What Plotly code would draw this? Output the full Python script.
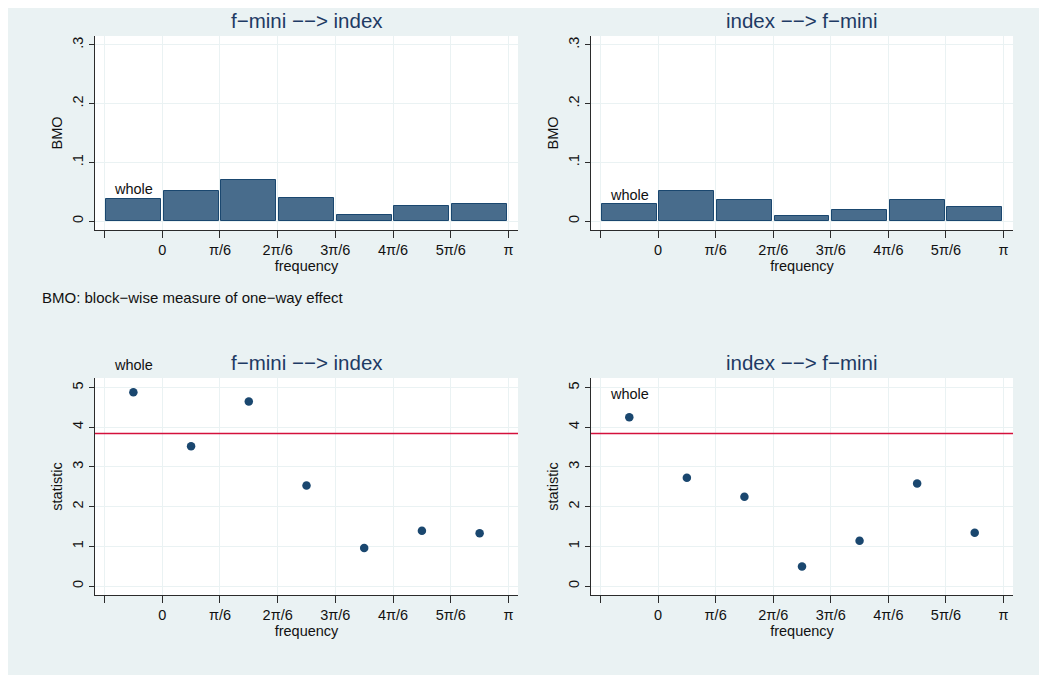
import numpy as np
import plotly.graph_objects as go

# ---------------- data ----------------
blocks = ["whole", "0-π/6", "π/6-2π/6", "2π/6-3π/6", "3π/6-4π/6", "4π/6-5π/6", "5π/6-π"]
bmo_f_to_i = [0.037, 0.051, 0.070, 0.039, 0.010, 0.025, 0.029]
bmo_i_to_f = [0.029, 0.051, 0.035, 0.008, 0.019, 0.036, 0.024]
stat_f_to_i = [4.88, 3.52, 4.65, 2.53, 0.96, 1.39, 1.33]
stat_i_to_f = [4.25, 2.73, 2.25, 0.49, 1.14, 2.58, 1.34]
critical_value = 3.84
x_tick_labels = ["", "0", "π/6", "2π/6", "3π/6", "4π/6", "5π/6", "π"]
bmo_ticks = [0, 0.1, 0.2, 0.3]
bmo_tick_labels = ["0", ".1", ".2", ".3"]
stat_ticks = [0, 1, 2, 3, 4, 5]
stat_tick_labels = ["0", "1", "2", "3", "4", "5"]
panel_titles = ["f−mini −−> index", "index −−> f−mini"]
note_text = "BMO: block−wise measure of one−way effect"

# ---------------- geometry ----------------
W, H = 1047, 675
OFF = 8  # page body margin offset
step = np.pi / 6
centers = [(i - 0.5) * step for i in range(len(blocks))]
tickvals = [(k - 1) * step for k in range(len(x_tick_labels))]
xrange_ = [-1.165 * step, 6.165 * step]

BG = "#eaf2f3"
NAVY = "#1a476f"
BAR_FILL = "#486c8c"
AX = "#2b2b2b"
FONT = "Liberation Sans, Arial, Helvetica, sans-serif"
TICK_SIZE = 14.5

def px_x(a, b):
    return [(a - OFF) / W, (b - OFF) / W]

def px_y(top, bottom):
    return [1 - (bottom - OFF) / H, 1 - (top - OFF) / H]

def py(v):
    return 1 - (v - OFF) / H

dom_x_left = px_x(95, 518)
dom_x_right = px_x(591, 1013)
dom_y_top = px_y(36, 230)
dom_y_bot = px_y(378, 595)

fig = go.Figure()

# bars (top row)
for vals, xa, ya in [(bmo_f_to_i, "x", "y"), (bmo_i_to_f, "x2", "y2")]:
    fig.add_trace(go.Bar(
        x=centers, y=vals, width=0.955 * step, xaxis=xa, yaxis=ya,
        marker=dict(color=BAR_FILL, line=dict(color=NAVY, width=1)),
        text=blocks, hoverinfo="x+y", textposition="none", showlegend=False,
    ))

# scatter (bottom row)
for vals, xa, ya in [(stat_f_to_i, "x3", "y3"), (stat_i_to_f, "x4", "y4")]:
    fig.add_trace(go.Scatter(
        x=centers, y=vals, mode="markers", xaxis=xa, yaxis=ya,
        marker=dict(color=NAVY, size=8.5, line=dict(width=0)),
        text=blocks, showlegend=False,
    ))

def xaxis(domain, anchor):
    return dict(
        domain=domain, anchor=anchor, range=xrange_,
        tickmode="array", tickvals=tickvals, ticktext=x_tick_labels,
        ticks="outside", ticklen=7, tickcolor=AX, tickwidth=1,
        showline=True, linecolor=AX, linewidth=1,
        showgrid=True, gridcolor=BG, gridwidth=1, zeroline=False,
        tickfont=dict(size=TICK_SIZE, color="#111"),
        title=dict(text="frequency", font=dict(size=TICK_SIZE, color="#111"), standoff=2),
        fixedrange=True,
    )

def yaxis(domain, anchor, rng, tv, tt, title):
    return dict(
        domain=domain, anchor=anchor, range=rng,
        tickmode="array", tickvals=tv, ticktext=tt, tickangle=-90,
        ticks="outside", ticklen=5, tickcolor=AX, tickwidth=1,
        showline=True, linecolor=AX, linewidth=1,
        showgrid=True, gridcolor=BG, gridwidth=1, zeroline=False,
        tickfont=dict(size=TICK_SIZE, color="#111"),
        title=dict(text=title, font=dict(size=TICK_SIZE, color="#111"), standoff=4),
        fixedrange=True,
    )

bmo_range = [-0.0153, 0.315]
stat_range = [-0.226, 5.24]

fig.update_layout(
    width=W, height=H,
    margin=dict(l=0, r=0, t=0, b=0),
    paper_bgcolor=BG, plot_bgcolor="white",
    font=dict(family=FONT, color="#111"),
    bargap=0,
    xaxis=xaxis(dom_x_left, "y"),
    yaxis=yaxis(dom_y_top, "x", bmo_range, bmo_ticks, bmo_tick_labels, "BMO"),
    xaxis2=xaxis(dom_x_right, "y2"),
    yaxis2=yaxis(dom_y_top, "x2", bmo_range, bmo_ticks, bmo_tick_labels, "BMO"),
    xaxis3=xaxis(dom_x_left, "y3"),
    yaxis3=yaxis(dom_y_bot, "x3", stat_range, stat_ticks, stat_tick_labels, "statistic"),
    xaxis4=xaxis(dom_x_right, "y4"),
    yaxis4=yaxis(dom_y_bot, "x4", stat_range, stat_ticks, stat_tick_labels, "statistic"),
)

# critical value lines
for xa, ya in [("x3", "y3"), ("x4", "y4")]:
    fig.add_shape(type="line", xref=f"{xa} domain", x0=0, x1=1, yref=ya,
                  y0=critical_value, y1=critical_value,
                  line=dict(color="#d4103c", width=1.5))

# panel titles
TITLE_COLOR = "#1e3a64"
title_specs = [
    (dom_x_left, 20, panel_titles[0]),
    (dom_x_right, 20, panel_titles[1]),
    (dom_x_left, 362, panel_titles[0]),
    (dom_x_right, 362, panel_titles[1]),
]
for dom_x, ty, txt in title_specs:
    fig.add_annotation(xref="paper", yref="paper", x=(dom_x[0] + dom_x[1]) / 2, y=py(ty),
                       text=txt, showarrow=False, xanchor="center", yanchor="middle",
                       font=dict(size=20.5, color=TITLE_COLOR, family=FONT))

# "whole" labels
label_specs = [
    ("x", "y", bmo_f_to_i[0], 10),
    ("x2", "y2", bmo_i_to_f[0], 9),
    ("x3", "y3", stat_f_to_i[0], 27),
    ("x4", "y4", stat_i_to_f[0], 23),
]
for xa, ya, val, shift in label_specs:
    fig.add_annotation(xref=xa, yref=ya, x=centers[0], y=val, text=blocks[0],
                       showarrow=False, xanchor="center", yanchor="middle", yshift=shift,
                       font=dict(size=TICK_SIZE, color="#111", family=FONT))

# note
fig.add_annotation(xref="paper", yref="paper", x=(40 - OFF) / W, y=py(297), text=note_text,
                   showarrow=False, xanchor="left", yanchor="middle",
                   font=dict(size=15, color="#111", family=FONT))

fig.write_html("out.html", config={"displayModeBar": False})
